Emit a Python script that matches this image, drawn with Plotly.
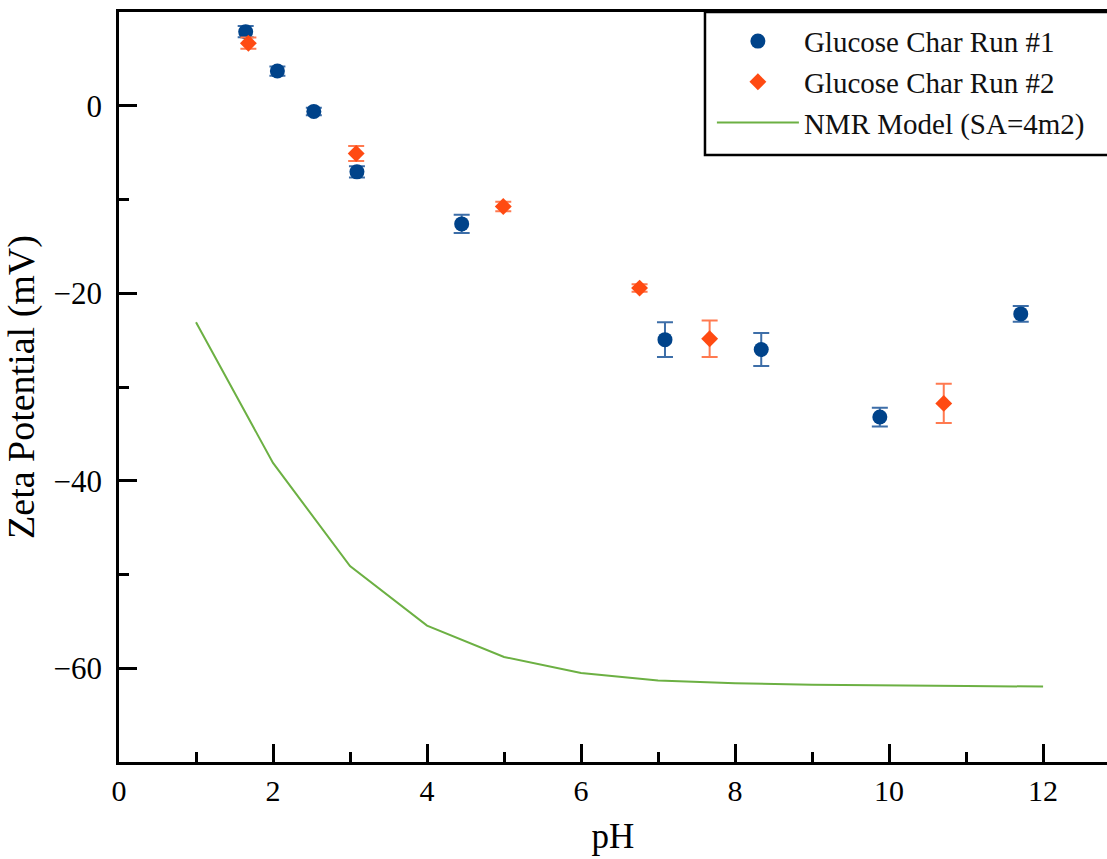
import plotly.graph_objects as go

# Run #1 (blue circles)
run1_ph = [1.645, 2.057, 2.53, 3.09, 4.45, 7.09, 8.34, 9.88, 11.71]
run1_zeta = [7.9, 3.7, -0.6, -7.05, -12.6, -24.95, -26.0, -33.2, -22.2]
run1_err = [0.6, 0.5, 0.4, 0.6, 0.98, 1.85, 1.75, 1.0, 0.85]

# Run #2 (orange diamonds)
run2_ph = [1.68, 3.08, 4.99, 6.76, 7.67, 10.71]
run2_zeta = [6.67, -5.1, -10.75, -19.45, -24.85, -31.75]
run2_err = [0.6, 0.8, 0.5, 0.4, 1.95, 2.1]

# NMR model line
model_ph = [1, 2, 3, 4, 5, 6, 7, 8, 9, 10, 11, 12]
model_zeta = [-23.1, -38.1, -49.1, -55.45, -58.8, -60.5, -61.3, -61.6, -61.75, -61.85, -61.9, -61.95]

x_ticks = [0, 2, 4, 6, 8, 10, 12]
y_ticks = [-60, -40, -20, 0]
y_ticktext = ["\u221260", "\u221240", "\u221220", "0"]

FONT = "Liberation Serif"

fig = go.Figure()
fig.add_trace(go.Scatter(
    x=run1_ph, y=run1_zeta, mode="markers", name="Glucose Char Run #1",
    marker=dict(symbol="circle", size=15, color="#00438a"),
    error_y=dict(type="data", array=run1_err, visible=True, color="#3d6ea8",
                 thickness=2, width=8),
))
fig.add_trace(go.Scatter(
    x=run2_ph, y=run2_zeta, mode="markers", name="Glucose Char Run #2",
    marker=dict(symbol="diamond", size=13, color="#ff4a12"),
    error_y=dict(type="data", array=run2_err, visible=True, color="#ff7a50",
                 thickness=2, width=8),
))
fig.add_trace(go.Scatter(
    x=model_ph, y=model_zeta, mode="lines", name="NMR Model (SA=4m2)",
    line=dict(color="#6cb043", width=2),
))

# legend frame (extends past the right edge, as in the reference)
fig.add_shape(type="rect", xref="paper", yref="paper",
              x0=0.5931, x1=1.05, y0=0.8093, y1=1.0,
              line=dict(color="black", width=2.5), fillcolor="white", layer="above")

fig.update_layout(
    width=1107, height=859,
    margin=dict(l=119, r=0, t=12, b=97),
    paper_bgcolor="white", plot_bgcolor="white",
    font=dict(family=FONT, color="black", size=30),
    showlegend=True,
    legend=dict(
        x=0.6001, y=0.995, xanchor="left", yanchor="top",
        bgcolor="rgba(0,0,0,0)", borderwidth=0,
        font=dict(family=FONT, size=29, color="#111"),
        itemwidth=82, tracegroupgap=0,
    ),
    xaxis=dict(
        range=[0, 12.83], tickvals=x_ticks, ticktext=[str(v) for v in x_ticks],
        showgrid=False, zeroline=False,
        showline=True, linecolor="black", linewidth=2.5, mirror=True,
        ticks="inside", ticklen=18, tickwidth=2.5, tickcolor="black",
        minor=dict(dtick=1, ticks="inside", ticklen=10, tickwidth=2.5, tickcolor="black", showgrid=False),
        tickfont=dict(family=FONT, size=30),
        title=dict(text="pH", font=dict(family=FONT, size=35), standoff=18),
    ),
    yaxis=dict(
        range=[-70, 10], tickvals=y_ticks, ticktext=y_ticktext,
        showgrid=False, zeroline=False,
        showline=True, linecolor="black", linewidth=2.5,
        ticks="inside", ticklen=18, tickwidth=2.5, tickcolor="black",
        minor=dict(tickvals=[-70, -50, -30, -10, 10], ticks="inside", ticklen=10, tickwidth=2.5, tickcolor="black", showgrid=False),
        tickfont=dict(family=FONT, size=31),
        ticklabelstandoff=8,
        title=dict(text="Zeta Potential (mV)", font=dict(family=FONT, size=38), standoff=10),
    ),
)

fig.write_html("out.html")
